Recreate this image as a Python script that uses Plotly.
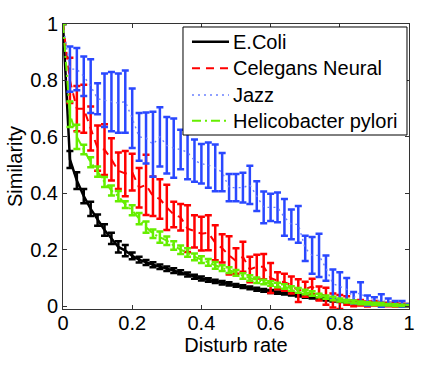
import plotly.graph_objects as go

disturb_rate = [0.00, 0.02, 0.04, 0.06, 0.08, 0.10, 0.12, 0.14, 0.16, 0.18,
                0.20, 0.22, 0.24, 0.26, 0.28, 0.30, 0.32, 0.34, 0.36, 0.38,
                0.40, 0.42, 0.44, 0.46, 0.48, 0.50, 0.52, 0.54, 0.56, 0.58,
                0.60, 0.62, 0.64, 0.66, 0.68, 0.70, 0.72, 0.74, 0.76, 0.78,
                0.80, 0.82, 0.84, 0.86, 0.88, 0.90, 0.92, 0.94, 0.96, 0.98, 1.00]

ecoli_mean = [1.0, 0.52, 0.445, 0.39, 0.345, 0.305, 0.27, 0.24, 0.21, 0.197,
              0.178, 0.165, 0.155, 0.147, 0.14, 0.133, 0.126, 0.12, 0.112, 0.104,
              0.098, 0.093, 0.088, 0.083, 0.079, 0.074, 0.069, 0.065, 0.06, 0.056,
              0.052, 0.048, 0.045, 0.042, 0.038, 0.034, 0.031, 0.027, 0.024, 0.02,
              0.018, 0.015, 0.013, 0.011, 0.009, 0.007, 0.006, 0.004, 0.003, 0.002, 0.001]
ecoli_err = [0.0, 0.03, 0.03, 0.025, 0.025, 0.02, 0.02, 0.02, 0.02, 0.02,
             0.012, 0.01, 0.009, 0.009, 0.008, 0.008, 0.008, 0.007, 0.007, 0.007,
             0.007, 0.006, 0.006, 0.006, 0.006, 0.005, 0.005, 0.005, 0.005, 0.005,
             0.005, 0.004, 0.004, 0.004, 0.004, 0.004, 0.004, 0.004, 0.004, 0.003,
             0.003, 0.003, 0.003, 0.003, 0.002, 0.002, 0.002, 0.002, 0.001, 0.001, 0.001]

celegans_mean = [1.0, 0.80, 0.70, 0.70, 0.63, 0.56, 0.555, 0.52, 0.48, 0.47,
                 0.475, 0.42, 0.43, 0.39, 0.38, 0.35, 0.325, 0.315, 0.275, 0.265,
                 0.257, 0.26, 0.225, 0.205, 0.18, 0.16, 0.175, 0.13, 0.14, 0.14,
                 0.10, 0.09, 0.085, 0.075, 0.055, 0.06, 0.07, 0.045, 0.035, 0.02,
                 0.015, 0.02, 0.01, 0.012, 0.008, 0.01, 0.006, 0.006, 0.005, 0.004, 0.003]
celegans_err = [0.0, 0.08, 0.08, 0.085, 0.078, 0.08, 0.09, 0.075, 0.065, 0.08,
                0.065, 0.07, 0.107, 0.07, 0.07, 0.08, 0.045, 0.047, 0.083, 0.057,
                0.06, 0.062, 0.062, 0.05, 0.068, 0.045, 0.053, 0.045, 0.042, 0.045,
                0.053, 0.03, 0.03, 0.03, 0.04, 0.027, 0.027, 0.025, 0.03, 0.025,
                0.025, 0.015, 0.01, 0.01, 0.009, 0.008, 0.007, 0.006, 0.006, 0.005, 0.005]

jazz_mean = [1.0, 0.84, 0.84, 0.815, 0.78, 0.735, 0.73, 0.725, 0.72, 0.725,
             0.666, 0.60, 0.596, 0.574, 0.60, 0.57, 0.56, 0.555, 0.545, 0.516,
             0.505, 0.50, 0.49, 0.475, 0.42, 0.42, 0.42, 0.43, 0.39, 0.35,
             0.35, 0.35, 0.315, 0.29, 0.29, 0.205, 0.18, 0.18, 0.135, 0.08,
             0.07, 0.06, 0.03, 0.05, 0.02, 0.02, 0.02, 0.015, 0.01, 0.008, 0.004]
jazz_err = [0.0, 0.08, 0.075, 0.07, 0.095, 0.055, 0.095, 0.105, 0.105, 0.11,
            0.105, 0.085, 0.09, 0.115, 0.105, 0.10, 0.105, 0.07, 0.095, 0.075,
            0.07, 0.08, 0.083, 0.068, 0.048, 0.048, 0.053, 0.068, 0.053, 0.056,
            0.048, 0.053, 0.065, 0.053, 0.065, 0.045, 0.065, 0.077, 0.045, 0.05,
            0.05, 0.04, 0.02, 0.035, 0.018, 0.012, 0.022, 0.012, 0.008, 0.01, 0.004]

helico_mean = [1.0, 0.68, 0.60, 0.555, 0.51, 0.477, 0.44, 0.41, 0.39, 0.36,
               0.34, 0.31, 0.28, 0.257, 0.245, 0.232, 0.215, 0.20, 0.19, 0.175,
               0.165, 0.155, 0.145, 0.135, 0.128, 0.118, 0.107, 0.10, 0.092, 0.086,
               0.08, 0.075, 0.07, 0.063, 0.056, 0.05, 0.045, 0.038, 0.032, 0.027,
               0.022, 0.018, 0.015, 0.012, 0.01, 0.008, 0.007, 0.005, 0.004, 0.003, 0.002]
helico_err = [0.0, 0.045, 0.043, 0.017, 0.018, 0.018, 0.018, 0.018, 0.018, 0.012,
              0.018, 0.02, 0.02, 0.015, 0.02, 0.015, 0.015, 0.015, 0.015, 0.012,
              0.012, 0.012, 0.012, 0.01, 0.01, 0.01, 0.01, 0.01, 0.01, 0.008,
              0.008, 0.008, 0.008, 0.008, 0.008, 0.008, 0.008, 0.006, 0.006, 0.006,
              0.005, 0.005, 0.005, 0.005, 0.004, 0.004, 0.004, 0.003, 0.003, 0.002, 0.002]

tick_vals = [0, 0.2, 0.4, 0.6, 0.8, 1]
tick_text = ["0", "0.2", "0.4", "0.6", "0.8", "1"]

FONT = "Liberation Sans, Arial, Helvetica, sans-serif"
FS = 20

series = [
    ("E.Coli", ecoli_mean, ecoli_err, "#000000", "#000000", "solid", 2.5),
    ("Celegans Neural", celegans_mean, celegans_err, "#ff0000", "#ff0000", "8px,6px", 2),
    ("Jazz", jazz_mean, jazz_err, "#2a48ff", "#6a80ff", "2px,4px", 1.4),
    ("Helicobacter pylori", helico_mean, helico_err, "#66ee00", "#66ee00", "9px,4px,2px,4px", 2),
]

fig = go.Figure()
for name, mean, err, color, lcolor, dash, lw in series:
    fig.add_trace(go.Scatter(
        x=disturb_rate, y=mean, name=name, mode="lines",
        line=dict(color=lcolor, dash=dash, width=lw),
        error_y=dict(type="data", array=err, visible=True,
                     color=color, thickness=2.5, width=3.5),
        showlegend=False,
    ))

# custom legend (paper coordinates) to match the MATLAB-style box
L_X0, L_X1, L_Y0, L_Y1 = 0.3468, 0.9942, 0.6105, 0.9895
SAMPLE_X0, SAMPLE_X1, TEXT_X = 0.3728, 0.4798, 0.4855
ROW_Y = [0.9379, 0.8446, 0.7509, 0.6607]

shapes = [dict(type="rect", xref="paper", yref="paper", x0=L_X0, x1=L_X1, y0=L_Y0, y1=L_Y1,
               line=dict(color="#000", width=1), fillcolor="white", layer="above")]
annotations = []
for (name, _, _, color, lcolor, dash, lw), ry in zip(series, ROW_Y):
    shapes.append(dict(type="line", xref="paper", yref="paper", x0=SAMPLE_X0, x1=SAMPLE_X1,
                       y0=ry, y1=ry, line=dict(color=lcolor, dash=dash, width=lw), layer="above"))
    annotations.append(dict(xref="paper", yref="paper", x=TEXT_X, y=ry, text=name,
                            showarrow=False, xanchor="left", yanchor="middle",
                            font=dict(family=FONT, size=FS, color="#000")))

axis_common = dict(
    showline=True, linecolor="#333", linewidth=1, mirror="ticks",
    ticks="inside", ticklen=4, tickcolor="#333",
    showgrid=False, zeroline=False,
    tickvals=tick_vals, ticktext=tick_text,
    tickfont=dict(family=FONT, size=FS, color="#000"),
)

fig.update_layout(
    width=436, height=373,
    margin=dict(l=63, r=27, t=24, b=64),
    paper_bgcolor="white", plot_bgcolor="white",
    font=dict(family=FONT, size=FS, color="#000"),
    xaxis=dict(range=[0, 1], ticklabelstandoff=-4,
               title=dict(text="Disturb rate", font=dict(family=FONT, size=FS), standoff=2),
               **axis_common),
    yaxis=dict(range=[-0.01, 1],
               title=dict(text="Similarity", font=dict(family=FONT, size=FS), standoff=2),
               **axis_common),
    shapes=shapes,
    annotations=annotations,
    showlegend=False,
)

fig.write_html("out.html", config={"displayModeBar": False},
               post_script="document.body.style.margin='0';")
